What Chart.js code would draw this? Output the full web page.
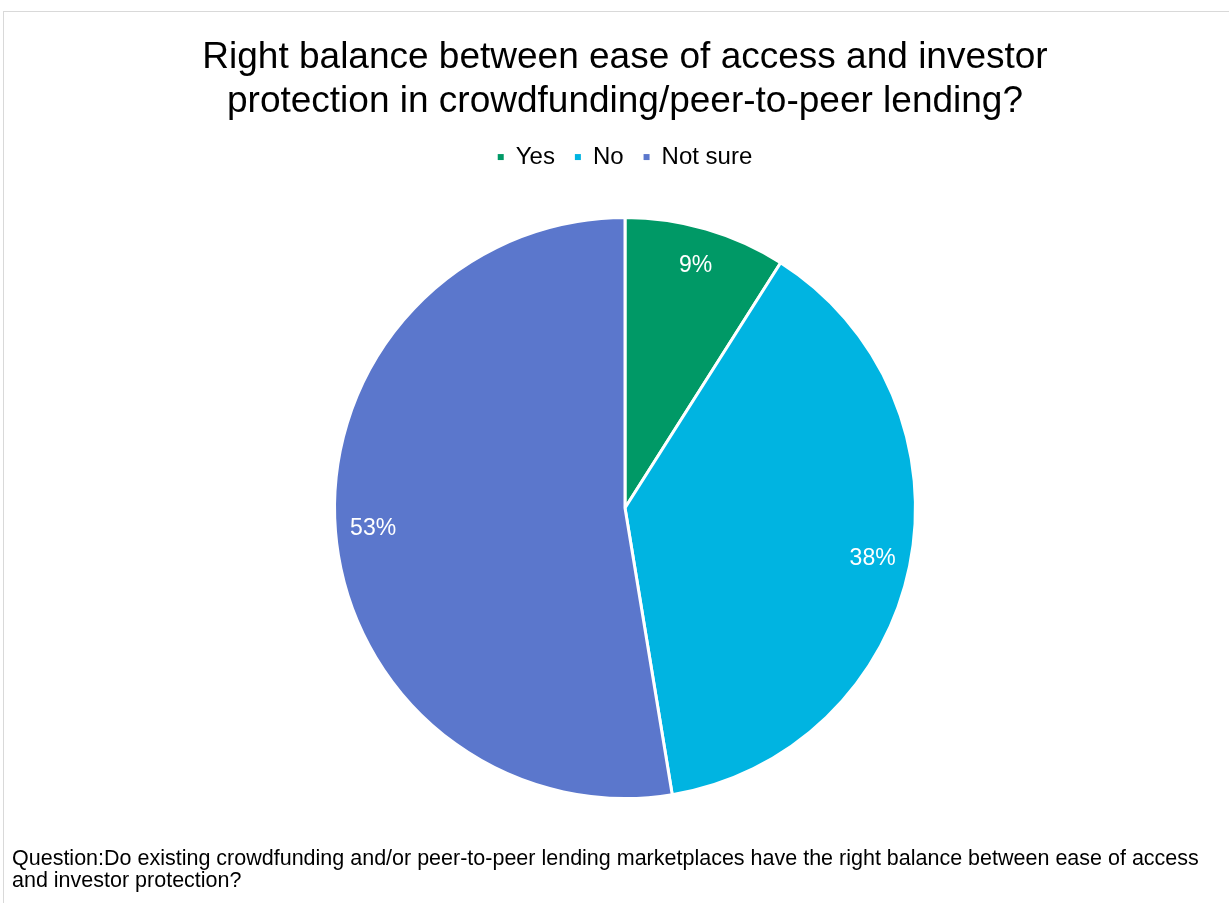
<!DOCTYPE html>
<html>
<head>
<meta charset="utf-8">
<script src="https://cdn.jsdelivr.net/npm/chart.js@4/dist/chart.umd.min.js"></script>
<style>
  html, body { margin: 0; padding: 0; background: #fff; }
  #wrap { position: relative; width: 1229px; height: 903px; overflow: hidden; }
  #frame { position: absolute; left: 3px; top: 11px; width: 1300px; height: 1000px; border: 1px solid #d9d9d9; box-sizing: border-box; }
  #myChart { position: absolute; left: 0; top: 0; }
  #note { position: absolute; left: 12px; top: 847px; width: 1200px; font-family: "Liberation Sans", Arial, sans-serif; font-size: 21.5px; line-height: 22px; color: #000; }
</style>
</head>
<body>
<div id="wrap">
  <div id="frame"></div>
  <canvas id="myChart" width="1229" height="903"></canvas>
  <div id="note">Question:Do existing crowdfunding and/or peer-to-peer lending marketplaces have the right balance between ease of access and investor protection?</div>
</div>
<script>
const categories = ['Yes', 'No', 'Not sure'];
const shares = [9, 38.4, 52.6];
const sliceColors = ['#009966', '#00b4e1', '#5b77cc'];
const titleLines = ['Right balance between ease of access and investor', 'protection in crowdfunding/peer-to-peer lending?'];

// percent labels inside each slice, placed from the arc geometry
const sliceLabels = {
  id: 'sliceLabels',
  afterDatasetsDraw(chart) {
    const ctx = chart.ctx;
    const meta = chart.getDatasetMeta(0);
    ctx.save();
    ctx.font = '23px "Liberation Sans", Arial, sans-serif';
    ctx.fillStyle = '#ffffff';
    ctx.textAlign = 'center';
    ctx.textBaseline = 'middle';
    meta.data.forEach((arc, i) => {
      const p = arc.getProps(['x', 'y', 'startAngle', 'endAngle', 'outerRadius'], true);
      const mid = (p.startAngle + p.endAngle) / 2;
      const r = p.outerRadius * 0.87;
      ctx.fillText(Math.round(shares[i]) + '%', p.x + Math.cos(mid) * r, p.y + Math.sin(mid) * r);
    });
    ctx.restore();
  }
};

// extra room under the legend
const legendSpace = {
  id: 'legendSpace',
  beforeInit(chart) {
    const fit = chart.legend.fit;
    chart.legend.fit = function () {
      fit.bind(chart.legend)();
      this.height += 37;
    };
  }
};

const ctx = document.getElementById('myChart');
new Chart(ctx, {
  type: 'pie',
  data: {
    labels: categories,
    datasets: [{
      data: shares,
      backgroundColor: sliceColors,
      borderColor: '#ffffff',
      borderWidth: 3
    }]
  },
  plugins: [sliceLabels, legendSpace],
  options: {
    responsive: false,
    animation: false,
    layout: { padding: { left: 21, right: 0, top: 0, bottom: 103 } },
    plugins: {
      tooltip: { enabled: false },
      title: {
        display: true,
        text: titleLines,
        color: '#000000',
        font: { family: '"Liberation Sans", Arial, sans-serif', size: 37, weight: 'normal', lineHeight: 1.19 },
        padding: { top: 36, bottom: 1 }
      },
      legend: {
        display: true,
        position: 'top',
        labels: {
          color: '#000000',
          boxWidth: 6,
          boxHeight: 6,
          padding: 20,
          font: { family: '"Liberation Sans", Arial, sans-serif', size: 24 },
          generateLabels(chart) {
            return Chart.overrides.pie.plugins.legend.labels.generateLabels(chart).map(item => {
              item.lineWidth = 0;
              item.strokeStyle = 'transparent';
              return item;
            });
          }
        }
      }
    }
  }
});
</script>
</body>
</html>
